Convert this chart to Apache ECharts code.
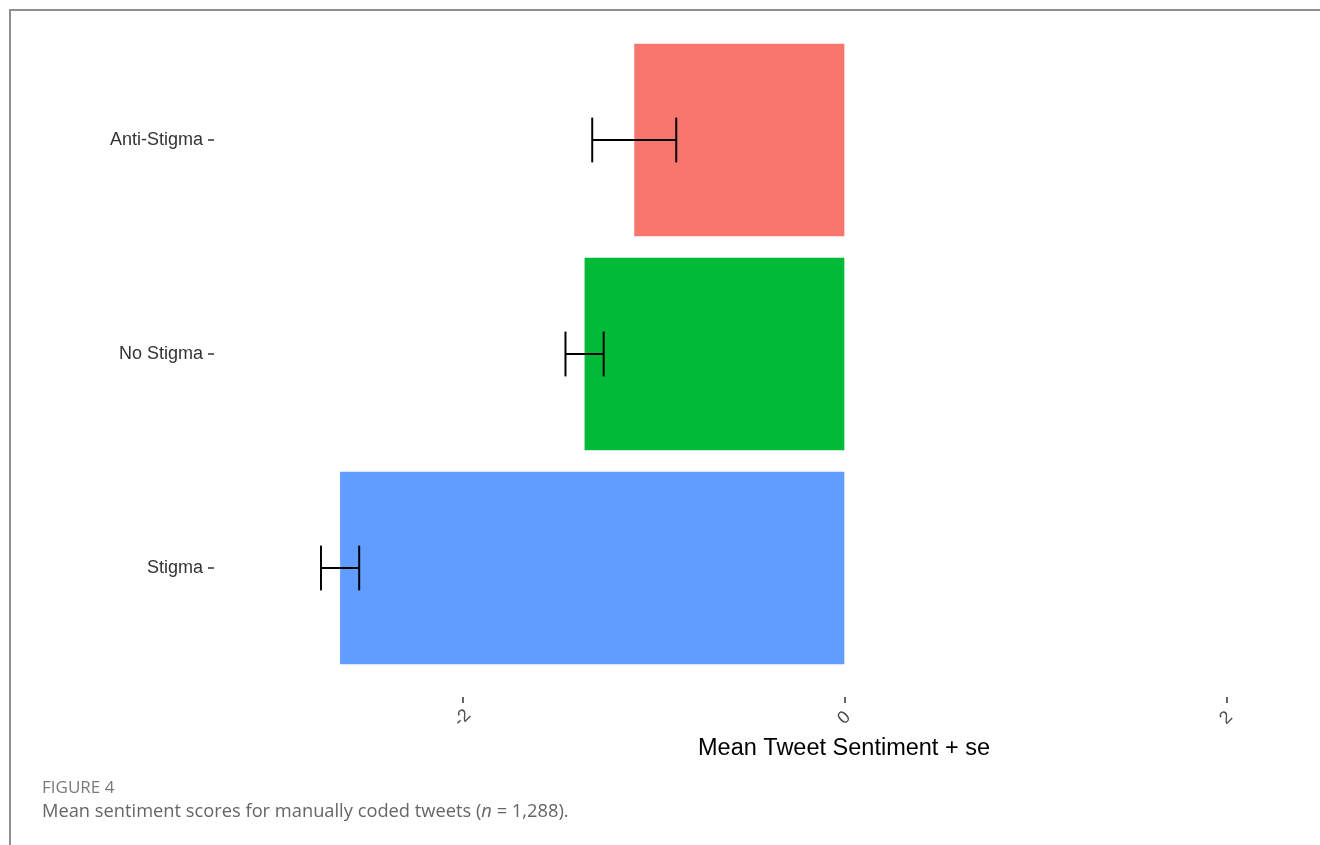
<!DOCTYPE html>
<html>
<head>
<meta charset="utf-8">
<script src="https://cdn.jsdelivr.net/npm/echarts@6/dist/echarts.min.js"></script>
<style>
  html, body { margin: 0; padding: 0; background: #ffffff; }
  #chart { width: 1320px; height: 845px; }
  #frame {
    position: absolute; left: 9px; top: 9px; right: 0; bottom: 0;
    border-top: 2px solid #8f8f8f; border-left: 2px solid #8f8f8f;
    pointer-events: none;
  }
</style>
</head>
<body>
<div id="chart"></div>
<div id="frame"></div>
<script>
// Groups, bottom to top
const categories = ['Stigma', 'No Stigma', 'Anti-Stigma'];
// Mean tweet sentiment per group
const meanSentiment = [-2.64, -1.36, -1.10];
// Standard error of the mean per group
const standardError = [0.10, 0.10, 0.22];
// Fill colour per group
const groupColors = ['#619CFF', '#00BA38', '#F8766D'];
// Tick values on the sentiment axis
const xTicks = [-2, 0, 2];

const chart = echarts.init(document.getElementById('chart'), null, { renderer: 'canvas' });

const errorData = meanSentiment.map((m, i) => [i, m - standardError[i], m + standardError[i]]);

// The panel runs past the right edge of the page; the visible part ends near x = 2.49
chart.setOption({
  animation: false,
  grid: { left: 214, right: 0, top: 33, bottom: 170 },
  xAxis: {
    type: 'value',
    min: -3.3,
    max: 2.49,
    offset: 22,
    axisLine: { show: true, onZero: false, lineStyle: { color: 'rgba(0,0,0,0)' } },
    splitLine: { show: false },
    axisTick: { show: true, customValues: xTicks, length: 6, lineStyle: { color: '#333333', width: 1.5 } },
    axisLabel: {
      customValues: xTicks,
      rotate: 45,
      align: 'center',
      verticalAlign: 'middle',
      margin: 21,
      fontFamily: 'Liberation Sans, Arial, sans-serif',
      fontSize: 18,
      color: '#4d4d4d'
    }
  },
  yAxis: {
    type: 'category',
    data: categories,
    axisLine: { show: true, onZero: false, lineStyle: { color: 'rgba(0,0,0,0)' } },
    splitLine: { show: false },
    axisTick: { show: true, alignWithLabel: true, length: 6, lineStyle: { color: '#333333', width: 1.5 } },
    axisLabel: {
      margin: 11,
      padding: [3, 0, 0, 0],
      fontFamily: 'Liberation Sans, Arial, sans-serif',
      fontSize: 18,
      color: '#333333'
    }
  },
  series: [
    {
      type: 'bar',
      barWidth: '90%',
      data: meanSentiment.map((v, i) => ({ value: v, itemStyle: { color: groupColors[i] } })),
      z: 2
    },
    {
      type: 'custom',
      z: 5,
      data: errorData,
      encode: { y: 0, x: [1, 2] },
      renderItem: function (params, api) {
        const idx = api.value(0);
        const lo = api.coord([api.value(1), idx]);
        const hi = api.coord([api.value(2), idx]);
        const half = api.size([0, 1])[1] * 0.2 / 2 + 1;
        const style = { stroke: '#000000', lineWidth: 2, fill: null };
        return {
          type: 'group',
          children: [
            { type: 'line', shape: { x1: lo[0], y1: lo[1], x2: hi[0], y2: hi[1] }, style: style },
            { type: 'line', shape: { x1: lo[0], y1: lo[1] - half, x2: lo[0], y2: lo[1] + half }, style: style },
            { type: 'line', shape: { x1: hi[0], y1: hi[1] - half, x2: hi[0], y2: hi[1] + half }, style: style }
          ]
        };
      }
    }
  ],
  graphic: [
    {
      type: 'text', x: 844, y: 737,
      style: { text: 'Mean Tweet Sentiment + se', align: 'center', font: '23.5px "Liberation Sans", Arial, sans-serif', fill: '#000000' }
    },
    {
      type: 'text', left: 42, top: 780,
      style: { text: 'FIGURE 4', font: '17px "Open Sans", sans-serif', fill: '#7a7a7a' }
    },
    {
      type: 'text', left: 42, top: 803,
      style: {
        rich: {
          n: { font: 'italic 18.3px "Open Sans", sans-serif', fill: '#666666' },
          t: { font: '18.3px "Open Sans", sans-serif', fill: '#666666' }
        },
        text: '{t|Mean sentiment scores for manually coded tweets (}{n|n}{t| = 1,288).}'
      }
    }
  ]
});
</script>
</body>
</html>
